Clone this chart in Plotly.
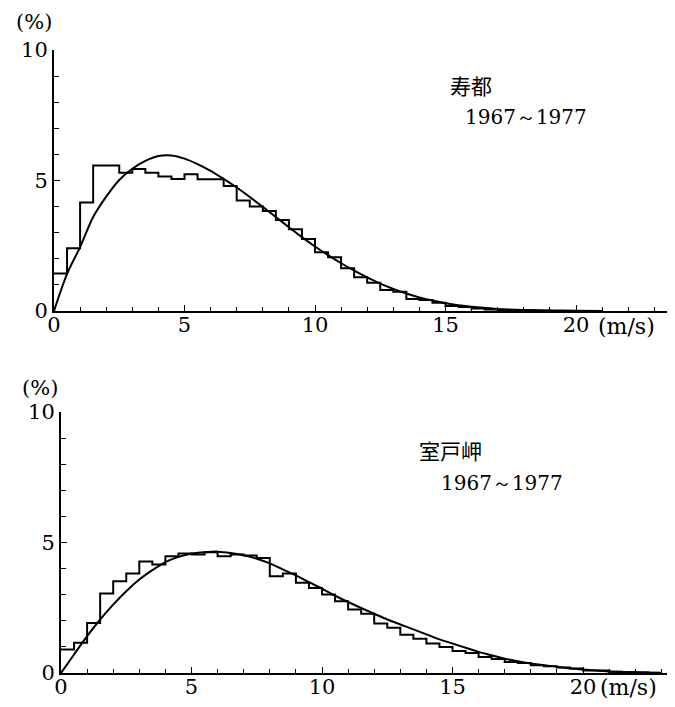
import plotly.graph_objects as go

# wind speed frequency, 0.5 m/s bins starting at 0 (percent)
BIN_WIDTH = 0.5

suttsu_hist = [1.44, 2.40, 4.16, 5.57, 5.57, 5.30, 5.44, 5.30, 5.15, 5.06,
               5.24, 5.05, 5.05, 4.79, 4.23, 4.00, 3.83, 3.49, 3.13, 2.76,
               2.25, 2.06, 1.64, 1.29, 1.08, 0.80, 0.74, 0.46, 0.42, 0.32,
               0.19, 0.15, 0.10, 0.06, 0.04, 0.03, 0.02, 0.01, 0.0]

muroto_hist = [0.90, 1.16, 1.92, 3.05, 3.52, 3.81, 4.27, 4.16, 4.47, 4.58,
               4.54, 4.63, 4.47, 4.54, 4.50, 4.41, 3.71, 3.81, 3.46, 3.26,
               3.01, 2.75, 2.43, 2.27, 1.90, 1.73, 1.47, 1.31, 1.13, 1.00,
               0.84, 0.77, 0.61, 0.54, 0.42, 0.38, 0.30, 0.26, 0.21, 0.17,
               0.10, 0.10, 0.05, 0.03, 0.02, 0.0]

# fitted curves
suttsu_curve_x = [0, 0.5, 1, 1.5, 2, 2.5, 3, 3.5, 4, 4.5, 5, 5.5, 6, 6.5,
                  7, 7.5, 8, 8.5, 9, 9.5, 10, 10.5, 11, 11.5, 12, 12.5, 13,
                  13.5, 14, 14.5, 15, 16, 17, 18, 19, 20, 21]
suttsu_curve_y = [0, 1.42, 2.45, 3.60, 4.38, 5.02, 5.45, 5.75, 5.94, 5.96,
                  5.84, 5.63, 5.37, 5.06, 4.73, 4.37, 3.99, 3.60, 3.21, 2.83,
                  2.47, 2.14, 1.83, 1.55, 1.29, 1.05, 0.85, 0.67, 0.52, 0.40,
                  0.30, 0.16, 0.08, 0.04, 0.02, 0.01, 0.0]

muroto_curve_x = [0, 0.5, 1, 1.5, 2, 2.5, 3, 3.5, 4, 4.5, 5, 5.5, 6, 6.5, 7,
                  7.5, 8, 8.5, 9, 9.5, 10, 10.5, 11, 11.5, 12, 12.5, 13, 13.5,
                  14, 14.5, 15, 15.5, 16, 16.5, 17, 18, 19, 20, 21, 22, 23]
muroto_curve_y = [0, 0.71, 1.41, 2.05, 2.62, 3.13, 3.58, 3.94, 4.25, 4.45, 4.58,
                  4.63, 4.65, 4.60, 4.51, 4.38, 4.20, 3.97, 3.74, 3.48, 3.23,
                  2.96, 2.72, 2.49, 2.27, 2.05, 1.86, 1.67, 1.48, 1.29, 1.13,
                  0.97, 0.81, 0.68, 0.55, 0.36, 0.24, 0.13, 0.06, 0.03, 0.01]

x_ticks = [0, 5, 10, 15, 20]
y_ticks = [0, 5, 10]

NUM_FONT = "DejaVu Serif"
JP_FONT = "Noto Sans CJK JP"

# the page body has an 8px margin, so the figure is drawn 8px in from the corner
OFF = 8
W, H = 675 - OFF, 707 - OFF


def steps(hist):
    xs = [BIN_WIDTH * i for i in range(len(hist))] + [BIN_WIDTH * len(hist)]
    ys = list(hist) + [hist[-1]]
    return xs, ys


fig = go.Figure()

for hist, cx, cy, xa, ya in [(suttsu_hist, suttsu_curve_x, suttsu_curve_y, "x", "y"),
                             (muroto_hist, muroto_curve_x, muroto_curve_y, "x2", "y2")]:
    hx, hy = steps(hist)
    fig.add_trace(go.Scatter(x=hx, y=hy, mode="lines", line_shape="hv",
                             line=dict(color="black", width=2),
                             xaxis=xa, yaxis=ya, hoverinfo="skip"))
    fig.add_trace(go.Scatter(x=cx, y=cy, mode="lines", line_shape="spline",
                             line=dict(color="black", width=2, smoothing=0.8),
                             xaxis=xa, yaxis=ya, hoverinfo="skip"))


def xaxis(x0px, anchor):
    x0 = x0px - OFF
    return dict(domain=[x0 / W, 1.0], range=[0, (W - x0) / 26.1], anchor=anchor,
                automargin=False,
                showline=True, linecolor="black", linewidth=2, showgrid=False,
                zeroline=False, tickvals=x_ticks, ticks="inside", ticklen=6,
                tickwidth=1, tickcolor="black", ticklabelstandoff=-6,
                minor=dict(dtick=1, ticks="inside", ticklen=4, tickcolor="black"),
                tickfont=dict(family=NUM_FONT, size=21, color="black"))


def yaxis(y0px, y10px, anchor):
    y0, y10 = y0px - OFF, y10px - OFF
    return dict(domain=[1 - y0 / H, 1 - y10 / H], range=[0, 10], anchor=anchor,
                automargin=False,
                showline=True, linecolor="black", linewidth=2, showgrid=False,
                zeroline=False, tickvals=y_ticks, ticks="inside", ticklen=6,
                tickwidth=1, tickcolor="black",
                minor=dict(dtick=1, ticks="inside", ticklen=5, tickcolor="black"),
                tickfont=dict(family=NUM_FONT, size=21, color="black"))


fig.update_layout(
    width=W, height=H,
    margin=dict(l=0, r=0, t=0, b=0),
    paper_bgcolor="white", plot_bgcolor="white",
    showlegend=False,
    xaxis=xaxis(54, "y"),
    yaxis=yaxis(311, 50, "x"),
    xaxis2=xaxis(61, "y2"),
    yaxis2=yaxis(673, 412, "x2"),
)

notes = [
    ("(%)", 34, 22, "center", NUM_FONT, 21),
    ("(m/s)", 626, 326, "center", NUM_FONT, 22),
    ("寿都", 448, 85, "left", JP_FONT, 21),
    ("1967～1977", 463, 117, "left", NUM_FONT, 20),
    ("(%)", 40, 388, "center", NUM_FONT, 21),
    ("(m/s)", 628, 687, "center", NUM_FONT, 22),
    ("室戸岬", 417, 450, "left", JP_FONT, 21),
    ("1967～1977", 439, 483, "left", NUM_FONT, 20),
]
for text, px, py, anchor, family, size in notes:
    fig.add_annotation(text=text, x=(px - OFF) / W, y=1 - (py - OFF) / H,
                       xref="paper", yref="paper",
                       xanchor=anchor, yanchor="middle", showarrow=False,
                       font=dict(family=family, size=size, color="black"))

fig.write_html("out.html")
